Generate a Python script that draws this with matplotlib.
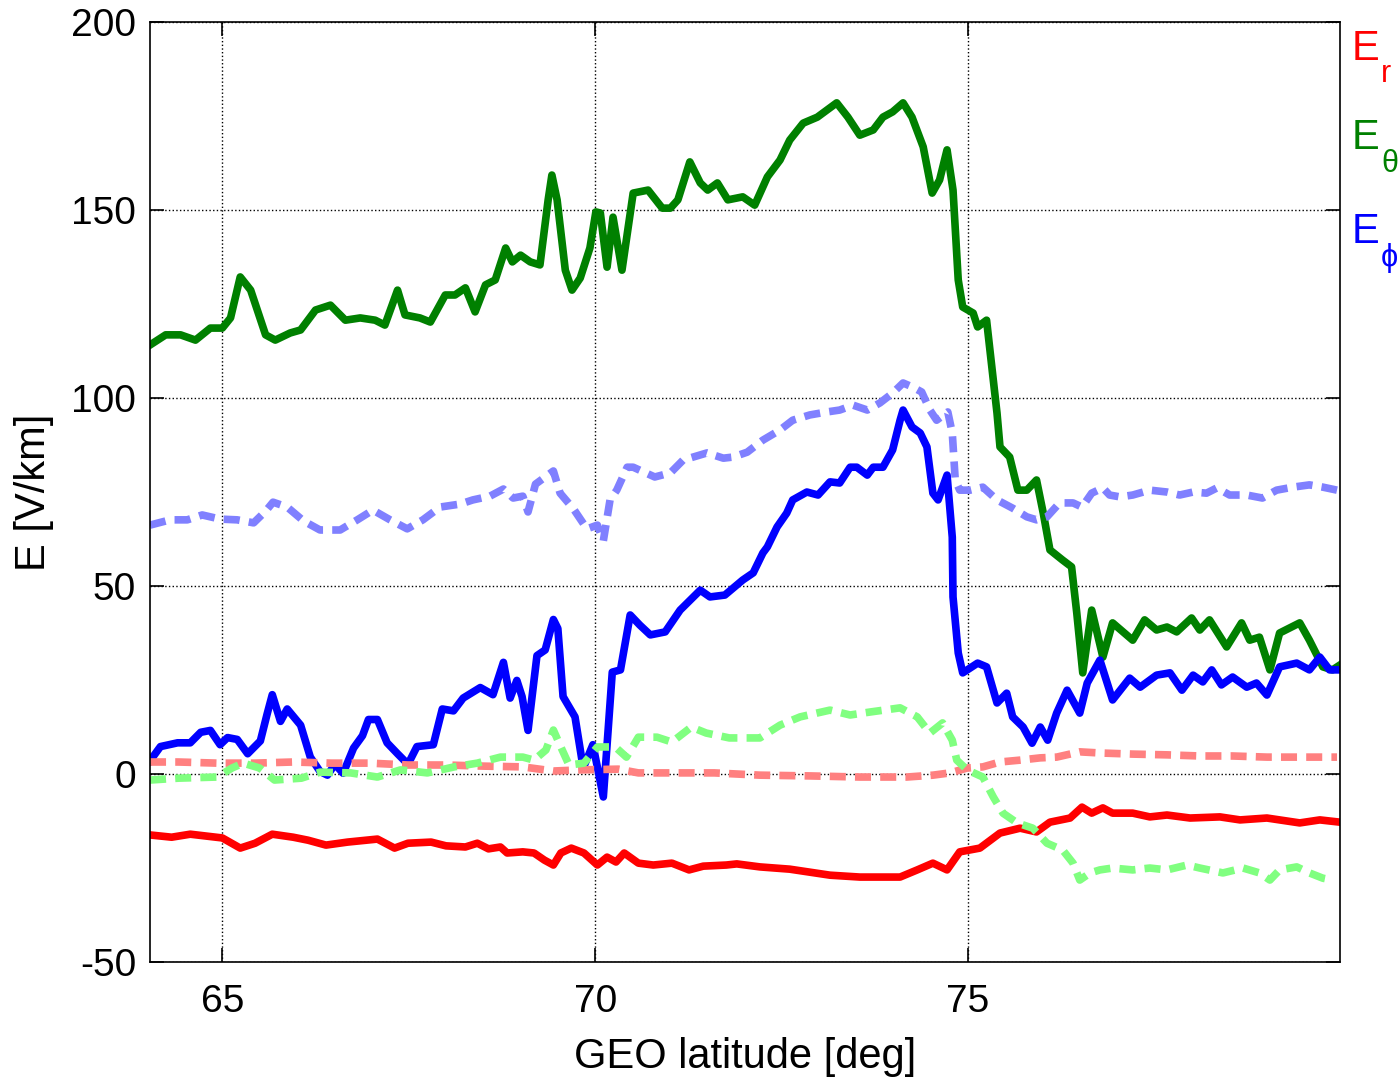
import matplotlib
matplotlib.use("Agg")
import matplotlib.pyplot as plt

plt.rcParams['font.family'] = ['Liberation Sans', 'DejaVu Sans']
plt.rcParams['axes.unicode_minus'] = False

# E_theta measured (solid green)
lat_theta = [64.03, 64.24, 64.44, 64.64, 64.84, 65.0, 65.11, 65.24, 65.38, 65.58, 65.71, 65.91, 66.05,
             66.25, 66.45, 66.65, 66.85, 67.05, 67.18, 67.35, 67.45, 67.65, 67.79, 67.99, 68.12, 68.26,
             68.39, 68.53, 68.66, 68.80, 68.89, 69.0, 69.13, 69.26, 69.37, 69.42, 69.49, 69.60, 69.69,
             69.80, 69.93, 70.01, 70.07, 70.16, 70.24, 70.36, 70.51, 70.71, 70.90, 71.01, 71.11, 71.27,
             71.41, 71.51, 71.64, 71.78, 71.98, 72.14, 72.31, 72.48, 72.61, 72.79, 72.98, 73.24, 73.39,
             73.55, 73.73, 73.86, 73.99, 74.13, 74.25, 74.40, 74.52, 74.62, 74.72, 74.80, 74.87, 74.93,
             75.07, 75.13, 75.25, 75.39, 75.43, 75.56, 75.67, 75.79, 75.92, 76.01, 76.10, 76.27, 76.39,
             76.46, 76.54, 76.66, 76.81, 76.94, 77.21, 77.37, 77.53, 77.67, 77.80, 78.00, 78.11, 78.24,
             78.47, 78.67, 78.78, 78.91, 79.05, 79.18, 79.45, 79.58, 79.76, 79.89, 79.99]
e_theta = [114.1, 116.8, 116.8, 115.4, 118.6, 118.6, 121.3, 132.2, 128.7, 116.8, 115.4, 117.3, 118.1,
           123.4, 124.7, 120.7, 121.3, 120.7, 119.4, 128.7, 122.1, 121.3, 120.2, 127.4, 127.4, 129.3,
           122.9, 130.1, 131.4, 139.9, 136.2, 138.0, 136.2, 135.4, 152.7, 159.3, 152.7, 134.0, 128.7,
           131.9, 139.9, 149.5, 149.2, 134.8, 148.1, 134.0, 154.5, 155.3, 150.5, 150.5, 152.7, 162.8,
           157.2, 155.3, 157.2, 152.7, 153.5, 151.3, 158.8, 163.3, 168.6, 173.1, 174.7, 178.5, 174.7,
           169.9, 171.3, 174.7, 176.1, 178.5, 174.7, 166.8, 154.5, 158.0, 166.0, 155.3, 131.4, 124.2,
           122.6, 118.9, 120.7, 96.0, 87.0, 84.3, 75.5, 75.5, 78.2, 69.4, 59.6, 56.9, 55.1,
           42.8, 26.9, 43.6, 31.1, 40.2, 35.6, 41.0, 38.3, 39.1, 37.8, 41.5, 38.3, 41.0,
           33.8, 40.2, 35.6, 36.4, 27.7, 37.5, 40.2, 35.6, 28.5, 27.7, 29.0]

# E_phi measured (solid blue)
lat_phi = [64.03, 64.17, 64.40, 64.57, 64.71, 64.84, 64.97, 65.07, 65.20, 65.34, 65.51, 65.60, 65.67,
           65.78, 65.87, 66.05, 66.18, 66.31, 66.41, 66.51, 66.62, 66.76, 66.88, 66.96, 67.08, 67.21,
           67.35, 67.49, 67.61, 67.83, 67.95, 68.10, 68.23, 68.46, 68.63, 68.77, 68.86, 68.95, 69.02,
           69.10, 69.22, 69.33, 69.44, 69.50, 69.57, 69.73, 69.84, 69.97, 70.11, 70.23, 70.34, 70.47,
           70.60, 70.74, 70.94, 71.14, 71.41, 71.54, 71.74, 71.98, 72.12, 72.25, 72.31, 72.44, 72.57,
           72.65, 72.84, 72.99, 73.15, 73.28, 73.42, 73.51, 73.65, 73.73, 73.86, 73.99, 74.09, 74.13,
           74.25, 74.36, 74.45, 74.53, 74.60, 74.72, 74.79, 74.80, 74.87, 74.93, 75.13, 75.25, 75.39,
           75.52, 75.60, 75.74, 75.86, 75.97, 76.07, 76.19, 76.33, 76.50, 76.60, 76.77, 76.94, 77.17,
           77.31, 77.53, 77.71, 77.87, 78.02, 78.15, 78.27, 78.40, 78.55, 78.74, 78.87, 79.01, 79.18,
           79.41, 79.58, 79.72, 79.85, 79.99]
e_phi = [3.5, 7.3, 8.3, 8.3, 11.1, 11.6, 7.8, 9.7, 9.2, 5.4, 8.8, 15.9, 21.1,
         14.0, 17.3, 13.0, 4.5, 0.7, -0.3, 2.6, 0.2, 6.9, 10.2, 14.5, 14.5, 8.3,
         5.4, 2.6, 7.3, 7.8, 17.3, 16.8, 20.2, 23.0, 21.1, 29.7, 20.2, 24.9, 20.6,
         11.6, 31.5, 33.0, 41.1, 38.7, 20.6, 15.2, 1.6, 7.8, -6.1, 27.1, 27.7, 42.3,
         39.6, 37.0, 37.8, 43.6, 48.9, 47.1, 47.6, 51.6, 53.5, 58.8, 60.4, 65.7, 69.4,
         72.9, 75.0, 74.2, 77.7, 77.4, 81.6, 81.6, 79.5, 81.6, 81.6, 86.2, 94.1, 96.8,
         92.3, 90.7, 87.0, 74.7, 72.9, 79.5, 63.0, 47.1, 32.2, 26.9, 29.5, 28.5, 18.9,
         21.5, 15.2, 12.5, 8.2, 12.5, 9.0, 16.2, 22.3, 16.2, 24.2, 30.3, 19.7, 25.5,
         23.1, 26.3, 26.9, 22.3, 26.3, 24.5, 27.7, 23.7, 25.8, 23.1, 24.2, 21.0, 28.5,
         29.5, 27.7, 31.1, 27.7, 27.7]

# E_r measured (solid red)
lat_r = [64.03, 64.32, 64.57, 65.00, 65.24, 65.44, 65.67, 65.95, 66.15, 66.39, 66.68, 67.08, 67.31,
         67.49, 67.80, 68.00, 68.26, 68.42, 68.57, 68.73, 68.82, 69.03, 69.18, 69.32, 69.44, 69.54,
         69.68, 69.85, 70.03, 70.16, 70.28, 70.39, 70.58, 70.78, 71.03, 71.26, 71.45, 71.76, 71.90,
         72.21, 72.61, 73.15, 73.55, 74.09, 74.32, 74.53, 74.72, 74.89, 75.16, 75.43, 75.70, 75.92,
         76.10, 76.37, 76.53, 76.66, 76.81, 76.94, 77.21, 77.44, 77.67, 77.98, 78.38, 78.65, 79.01,
         79.45, 79.72, 79.99]
e_r = [-16.2, -16.8, -16.0, -17.0, -19.7, -18.4, -16.0, -16.8, -17.6, -18.9, -18.1, -17.3, -19.7,
       -18.4, -18.1, -19.1, -19.4, -18.4, -19.9, -19.4, -21.0, -20.7, -21.0, -22.9, -24.2, -21.0,
       -19.7, -21.0, -24.2, -22.1, -23.4, -21.0, -23.7, -24.2, -23.7, -25.5, -24.5, -24.2, -23.9,
       -24.7, -25.3, -26.9, -27.4, -27.4, -25.5, -23.7, -25.5, -20.7, -19.7, -15.7, -14.4, -15.4,
       -12.8, -11.7, -8.8, -10.4, -9.0, -10.4, -10.4, -11.4, -10.9, -11.7, -11.4, -12.2, -11.7,
       -13.0, -12.2, -12.8]

# model E_r (dashed light red)
lat_r_mod = [64.03, 64.41, 64.93, 65.44, 65.95, 66.46, 66.98, 67.49, 68.00, 68.51, 69.03, 69.44, 69.80,
             70.31, 70.58, 71.09, 71.60, 72.21, 72.88, 73.55, 74.18, 74.53, 74.76, 74.99, 75.20, 75.43,
             75.70, 75.97, 76.19, 76.50, 76.77, 77.21, 77.67, 78.11, 78.55, 79.01, 79.45, 79.95]
e_r_mod = [3.2, 3.2, 2.9, 2.9, 3.2, 2.9, 2.9, 2.4, 2.4, 2.1, 1.9, 0.8, 1.1,
           1.3, 0.3, 0.3, 0.3, -0.3, -0.5, -0.8, -0.8, -0.3, 0.3, 1.6, 1.9, 3.2,
           3.7, 4.3, 4.5, 5.9, 5.6, 5.3, 5.1, 4.8, 4.8, 4.5, 4.5, 4.5]

# model E_theta (dashed light green)
lat_theta_mod = [64.03, 64.41, 64.93, 65.13, 65.28, 65.50, 65.70, 66.06, 66.31, 66.72, 67.08, 67.39, 67.75,
                 68.11, 68.42, 68.73, 69.03, 69.18, 69.34, 69.44, 69.54, 69.65, 69.85, 70.03, 70.27, 70.42,
                 70.58, 70.83, 71.03, 71.29, 71.49, 71.80, 72.21, 72.48, 72.75, 73.15, 73.42, 73.69, 74.09,
                 74.32, 74.49, 74.66, 74.79, 74.85, 74.99, 75.20, 75.34, 75.47, 75.66, 75.87, 76.06, 76.27,
                 76.41, 76.50, 76.64, 76.77, 76.94, 77.21, 77.44, 77.67, 77.94, 78.11, 78.42, 78.69, 78.91,
                 79.05, 79.18, 79.41, 79.58, 79.76, 79.89]
e_theta_mod = [-1.6, -1.1, -0.8, 1.6, 2.9, 1.6, -1.6, -1.1, 0.5, 0.3, -0.8, 1.1, 0.3,
               1.9, 2.9, 4.5, 4.5, 3.7, 6.4, 11.7, 7.2, 2.4, 2.9, 7.2, 7.2, 4.5,
               9.8, 9.8, 8.5, 12.5, 10.9, 9.6, 9.6, 13.0, 15.2, 17.0, 15.7, 16.5, 17.6,
               15.2, 10.9, 13.6, 9.0, 3.7, 1.1, -0.8, -6.1, -10.4, -13.0, -14.4, -18.4, -20.2,
               -23.7, -28.2, -26.3, -25.5, -25.0, -25.5, -25.0, -25.5, -24.2, -25.0, -26.3, -25.0, -26.3,
               -28.2, -25.5, -24.7, -26.3, -27.7, -28.2]

# model E_phi (dashed light blue)
lat_phi_mod = [64.03, 64.30, 64.53, 64.73, 64.97, 65.20, 65.42, 65.58, 65.68, 65.87, 66.09, 66.31, 66.58,
               66.81, 67.02, 67.25, 67.48, 67.69, 67.92, 68.19, 68.36, 68.59, 68.77, 68.90, 69.03, 69.10,
               69.20, 69.44, 69.53, 69.71, 69.89, 70.03, 70.11, 70.20, 70.29, 70.43, 70.51, 70.80, 71.01,
               71.18, 71.50, 71.72, 71.85, 72.04, 72.25, 72.48, 72.65, 72.88, 73.11, 73.28, 73.46, 73.65,
               73.82, 73.99, 74.13, 74.26, 74.38, 74.49, 74.58, 74.73, 74.79, 74.83, 74.89, 75.03, 75.20,
               75.39, 75.60, 75.79, 75.92, 76.06, 76.23, 76.41, 76.53, 76.66, 76.81, 76.90, 77.04, 77.21,
               77.44, 77.67, 77.84, 78.02, 78.20, 78.34, 78.51, 78.74, 78.95, 79.14, 79.36, 79.58, 79.76,
               79.95]
e_phi_mod = [66.2, 67.6, 67.6, 68.9, 67.8, 67.6, 66.8, 69.9, 72.3, 71.0, 67.3, 64.9, 64.9,
             67.6, 70.2, 67.6, 65.2, 67.6, 71.0, 71.8, 72.9, 73.9, 75.8, 73.4, 73.9, 69.7,
             77.1, 80.6, 74.7, 70.5, 65.2, 66.2, 62.0, 72.9, 75.5, 81.6, 81.6, 79.0, 80.1,
             83.5, 85.4, 84.0, 84.3, 85.6, 88.8, 91.5, 94.1, 95.5, 96.3, 96.8, 98.1, 96.8,
             98.7, 101.3, 104.0, 102.9, 101.6, 96.8, 94.1, 96.3, 90.7, 78.2, 75.5, 75.5, 76.3,
             72.9, 70.7, 68.4, 67.6, 68.4, 72.1, 72.1, 71.0, 74.7, 76.1, 74.2, 73.7, 74.2,
             75.5, 75.0, 74.2, 75.0, 74.7, 76.1, 74.2, 74.2, 73.4, 75.5, 76.3, 76.9, 76.3,
             75.5]

fig = plt.figure(figsize=(13.98, 10.79), dpi=100)
ax = fig.add_axes([0.1073, 0.1084, 0.8512, 0.8712])

lw = 5.5
ax.plot(lat_r, e_r, color='#ff0000', lw=lw)
ax.plot(lat_theta, e_theta, color='#008000', lw=lw)
ax.plot(lat_phi, e_phi, color='#0000ff', lw=lw)
dash = (0, (2.1, 1.2))
ax.plot(lat_r_mod, e_r_mod, color='#ff8080', lw=lw, linestyle=dash)
ax.plot(lat_theta_mod, e_theta_mod, color='#80ff80', lw=lw, linestyle=dash)
ax.plot(lat_phi_mod, e_phi_mod, color='#8080ff', lw=lw, linestyle=dash)

ax.set_xlim(64.03, 79.99)
ax.set_ylim(-50, 200)
ax.set_xticks([65, 70, 75])
ax.set_yticks([-50, 0, 50, 100, 150, 200])
ax.grid(True, linestyle=':', color='black', linewidth=1.0)
ax.tick_params(direction='in', length=10, width=1.2, labelsize=28, top=True, right=True, pad=10)
ax.tick_params(axis='x', pad=16)
for s in ax.spines.values():
    s.set_linewidth(1.2)
ax.set_xlabel('GEO latitude [deg]', fontsize=30, labelpad=12)
ax.set_ylabel('E [V/km]', fontsize=30, labelpad=12)

# component labels on the right
labels = [('E', 'r', '#ff0000', 0.955), ('E', 'θ', '#008000', 0.872), ('E', 'ϕ', '#0000ff', 0.785)]
for big, sub, col, y in labels:
    fig.text(0.9665, y, big, color=col, fontsize=30, va='center', ha='left')
    fig.text(0.988, y - 0.024, sub, color=col, fontsize=22, va='center', ha='left')

fig.savefig('out.png', dpi=100)
